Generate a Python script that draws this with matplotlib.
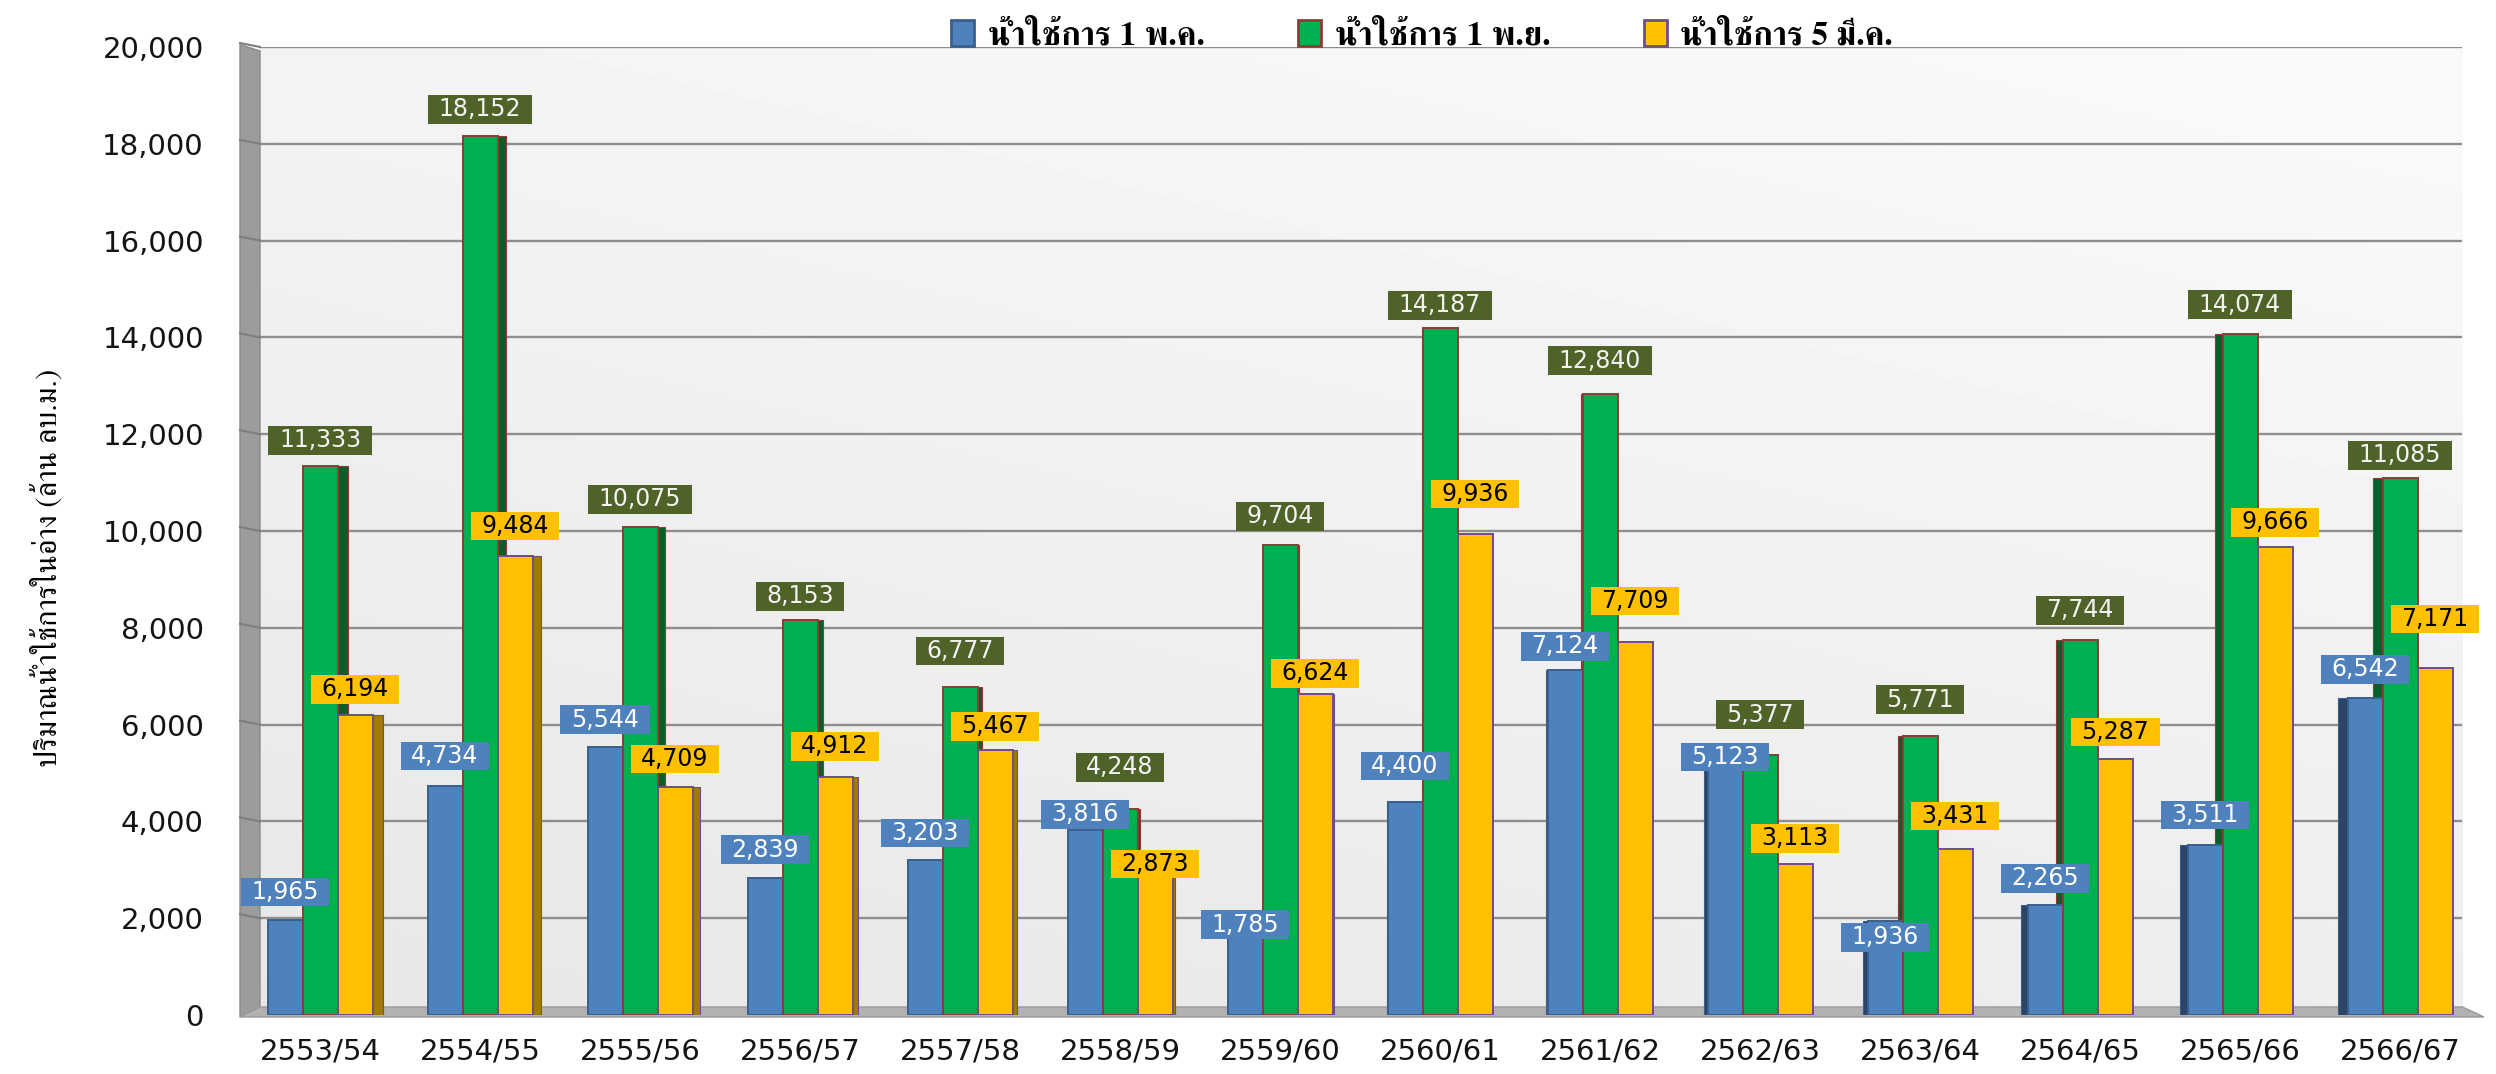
import matplotlib
matplotlib.use('Agg')
import matplotlib.pyplot as plt
import numpy as np
from matplotlib.patches import Patch, Polygon
from matplotlib.path import Path

years = ['2553/54', '2554/55', '2555/56', '2556/57', '2557/58', '2558/59', '2559/60',
         '2560/61', '2561/62', '2562/63', '2563/64', '2564/65', '2565/66', '2566/67']
may1 = [1965, 4734, 5544, 2839, 3203, 3816, 1785, 4400, 7124, 5123, 1936, 2265, 3511, 6542]
nov1 = [11333, 18152, 10075, 8153, 6777, 4248, 9704, 14187, 12840, 5377, 5771, 7744, 14074, 11085]
mar5 = [6194, 9484, 4709, 4912, 5467, 2873, 6624, 9936, 7709, 3113, 3431, 5287, 9666, 7171]
series_names = ['น้ำใช้การ 1 พ.ค.', 'น้ำใช้การ 1 พ.ย.', 'น้ำใช้การ 5 มี.ค.']
ylabel = 'ปริมาณน้ำใช้การในอ่าง (ล้าน ลบ.ม.)'

# how far (px) each value box sits above its bar top
lift_may = [28, 30, 27, 28, 27, 16, 4, 36, 24, 10, -16, 27, 30, 29]
lift_nov = [26, 27, 28, 24, 36, 42, 29, 23, 33, 40, 36, 30, 29, 23]
lift_mar = [26, 30, 28, 31, 24, 12, 21, 40, 41, 26, 33, 27, 25, 49]

face = ['#4F81BD', '#00B050', '#FFC000']
edge = ['#3A5F8C', '#8E3B36', '#6A4F8A']
side = ['#2B4468', '#0E5C2A', '#A37A00']
box_fc = ['#4F81BD', '#4F6228', '#FFC000']
box_tc = ['white', '#F2F2F2', 'black']

thai_serif = ['FreeSerif', 'DejaVu Serif']
plt.rcParams['font.family'] = ['DejaVu Sans']

fig = plt.figure(figsize=(24.96, 10.74), dpi=100)
ax = fig.add_axes([240 / 2496, 1 - 1015 / 1074, 2240 / 2496, 968 / 1074])
ax.set_xlim(-0.5, 13.5)
ax.set_ylim(0, 20000)
for s in ax.spines.values():
    s.set_visible(False)
ax.patch.set_alpha(0)

px = 20000 / 968  # one pixel in data units (vertical)
ux = 1 / 160      # one pixel in data units (horizontal)

# back wall with a soft diagonal gradient
gy, gx = np.mgrid[0:1:200j, 0:1:400j]
shade = 0.905 + 0.075 * (0.65 * gy + 0.35 * gx)
ax.imshow(shade, cmap='gray', vmin=0, vmax=1, origin='lower', aspect='auto',
          extent=[-0.375, 13.39, 8 * px, 20000], zorder=0, interpolation='bicubic')

# left side wall and floor
ax.add_patch(Polygon([(-0.5, -2 * px), (-0.375, 8 * px), (-0.375, 20000 - 4 * px),
                      (-0.5, 20000 + 2.5 * px)], closed=True, fc='#9C9C9C', ec='#8A8A8A',
                     lw=1, zorder=1, clip_on=False))
ax.add_patch(Polygon([(-0.5, -2 * px), (-0.375, 8 * px), (13.39, 8 * px), (13.525, -2 * px)],
                     closed=True, fc='#B2B2B2', ec='#9A9A9A', lw=1, zorder=1, clip_on=False))

# grid lines on the back wall, continued across the side wall
for v in range(2000, 20001, 2000):
    ax.plot([-0.375, 13.39], [v, v], color='#8E8E8E', lw=1.7, zorder=1.5, solid_capstyle='butt')
    ax.plot([-0.5, -0.375], [v + 4 * px, v], color='#7E7E7E', lw=1.5, zorder=1.5, clip_on=False)

bar_w = 35 * ux
x = np.arange(len(years))
values = [may1, nov1, mar5]
lifts = [lift_may, lift_nov, lift_mar]

for k, vals in enumerate(values):
    xs = x + (k - 1) * bar_w
    depth = np.abs(x - 6.8) * 1.5 * ux
    left_side = x > 6.8
    sx = np.where(left_side, xs - bar_w / 2 - depth, xs + bar_w / 2)
    ax.bar(sx, vals, width=depth, align='edge', color=side[k], edgecolor=edge[k],
           linewidth=0.8, zorder=2)
    ax.bar(xs, vals, width=bar_w, color=face[k], edgecolor=edge[k], linewidth=1.4, zorder=3)


def value_box(x0, y0, width, height, mutation_size):
    padx, pady = 0.45 * mutation_size, 0.1 * mutation_size
    return Path([(x0 - padx, y0 - pady), (x0 + width + padx, y0 - pady),
                 (x0 + width + padx, y0 + height + pady), (x0 - padx, y0 + height + pady),
                 (x0 - padx, y0 - pady)], closed=True)


for k, vals in enumerate(values):
    for i, v in enumerate(vals):
        ax.annotate(f'{v:,}', xy=(i + (k - 1) * bar_w, v), xytext=(0, lifts[k][i]),
                    textcoords='offset pixels', ha='center', va='center',
                    fontsize=17, color=box_tc[k], zorder=5,
                    bbox=dict(boxstyle=value_box, fc=box_fc[k], ec='none'))

ax.set_xticks(x)
ax.set_xticklabels(years, fontsize=21)
ax.set_yticks(range(0, 20001, 2000))
ax.set_yticklabels([f'{v:,}' for v in range(0, 20001, 2000)], fontsize=21)
ax.tick_params(axis='both', length=0, colors='#141414')
ax.tick_params(axis='y', pad=26)
ax.tick_params(axis='x', pad=16)

fig.text(0.019, 1 - 568 / 1074, ylabel, rotation=90, ha='center', va='center',
         fontsize=22, family=thai_serif)

handles = [Patch(fc=face[k], ec=edge[k], lw=2) for k in range(3)]
fig.legend(handles, series_names, loc='center', bbox_to_anchor=(1422 / 2496, 1 - 36 / 1074),
           ncol=3, frameon=False, handlelength=0.7, handleheight=0.8, handletextpad=0.4,
           columnspacing=2.8, prop=dict(family=thai_serif, weight='bold', size=24))

fig.savefig('out.png', dpi=100, facecolor='white')
